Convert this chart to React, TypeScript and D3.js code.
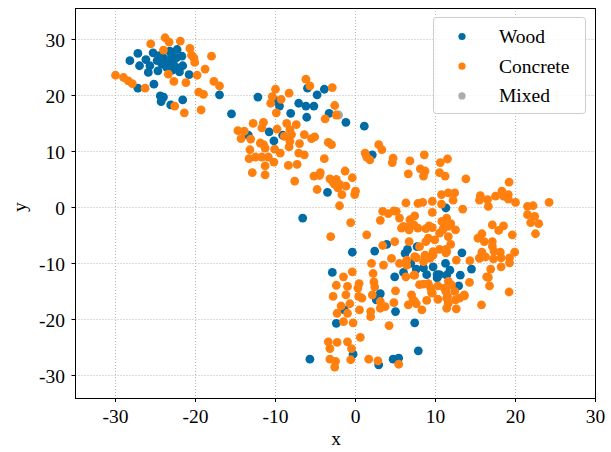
import React from "react";
import * as d3 from "d3";

// t-SNE style embedding
const wood: [number, number][] = [
  [-27.2, 27.6], [-28.2, 26.3], [-26.2, 26.5], [-25.3, 27.7], [-27.0, 25.4], [-25.7, 25.4],
  [-24.8, 26.3], [-24.0, 26.8], [-23.0, 27.4], [-22.3, 28.3], [-22.4, 26.8], [-21.7, 27.1],
  [-23.3, 26.3], [-24.2, 25.7], [-23.6, 25.1], [-22.4, 25.1], [-21.6, 25.4], [-22.0, 24.3],
  [-24.7, 24.5], [-25.9, 24.2], [-20.8, 23.8], [-27.2, 21.4], [-25.2, 22.1], [-24.4, 20.0],
  [-24.0, 19.8], [-24.3, 19.0], [-23.1, 18.4], [-21.6, 19.3], [-17.0, 20.2], [-15.5, 16.8],
  [-23.8, 26.1], [-22.8, 26.0], [-24.5, 27.2], [-23.2, 28.0], [-22.9, 24.6],
  [-6.0, 21.4], [-3.9, 21.2], [-4.8, 20.2], [-12.2, 19.8], [-9.9, 19.1], [-9.5, 18.2],
  [-7.1, 18.7], [-6.2, 18.2], [-5.2, 18.2], [-8.1, 16.9], [-6.1, 16.2], [-3.3, 16.9],
  [-1.2, 15.3], [1.1, 14.6], [-13.4, 13.0], [-10.8, 13.6], [-10.2, 12.0], [-9.1, 13.0],
  [2.1, 9.5], [-3.5, 2.8], [-6.6, -1.8],
  [11.3, 0.0], [13.3, -8.0], [11.25, -9.9], [11.8, -11.1], [14.5, -10.9], [13.1, -12.0],
  [12.9, -13.9], [10.5, -11.9], [3.9, -6.5], [2.4, -7.7], [6.5, -7.4], [6.2, -8.1],
  [7.7, -6.9], [-0.4, -7.9], [6.9, -9.9], [7.6, -10.9], [8.5, -10.7], [8.9, -11.9],
  [9.7, -10.5], [10.2, -11.9], [10.2, -12.5], [11.4, -12.0], [-2.9, -11.5], [4.9, -12.3],
  [6.0, -11.5], [3.1, -15.3],
  [-1.4, -18.2], [3.0, -15.5], [2.6, -16.4], [5.0, -18.5], [-2.4, -20.6], [7.4, -20.5],
  [-0.3, -26.1], [-5.7, -27.0], [2.9, -28.0], [4.7, -27.0], [5.4, -26.8], [7.85, -25.5],
];

const concrete: [number, number][] = [
  [-25.6, 29.3], [-23.8, 30.4], [-23.3, 29.6], [-21.9, 29.8], [-24.0, 28.2], [-20.7, 28.5],
  [-20.5, 27.3], [-20.2, 26.8], [-20.1, 26.0], [-18.0, 27.1], [-18.8, 24.8], [-30.0, 23.7],
  [-29.0, 23.3], [-28.4, 22.7], [-27.9, 22.2], [-26.3, 21.4], [-23.4, 23.9], [-22.7, 22.6],
  [-21.2, 22.4], [-19.8, 23.7], [-17.7, 22.6], [-17.0, 21.8], [-19.6, 20.7], [-19.0, 20.3],
  [-22.6, 18.2], [-21.4, 17.0], [-19.3, 17.5],
  [-6.2, 23.0], [-5.7, 21.8], [-2.9, 21.5], [-10.0, 21.2], [-10.4, 19.9], [-10.6, 18.7],
  [-9.3, 19.4], [-8.3, 20.5], [-9.9, 17.0], [-2.6, 18.3], [-2.4, 16.6], [-3.8, 15.9],
  [-12.8, 15.1], [-11.5, 15.3], [-14.7, 13.8], [-13.9, 13.7], [-14.3, 12.4], [-13.1, 12.3],
  [-11.7, 14.3], [-8.6, 15.1], [-7.4, 14.9], [-8.2, 14.0], [-9.8, 14.1], [-8.9, 12.8],
  [-8.0, 13.1], [-8.2, 11.9], [-8.3, 10.9], [-7.0, 11.5], [-6.4, 13.1], [-5.5, 12.4],
  [-5.1, 12.7], [-3.4, 11.7], [-3.0, 11.3], [-11.9, 11.6], [-11.5, 11.3], [-11.3, 10.7],
  [-10.1, 10.5], [-13.2, 10.4], [-9.4, 9.8], [-7.1, 9.8], [-6.4, 9.5], [-13.3, 8.8],
  [-12.5, 9.1], [-11.7, 9.1], [-10.9, 9.1], [-10.2, 8.2], [-11.3, 7.5], [-8.4, 7.6],
  [-7.3, 7.8], [-12.9, 6.3], [-11.3, 5.9], [-3.9, 8.8], [-7.6, 4.8], [-5.2, 5.7],
  [-4.5, 5.8], [-3.2, 5.2], [-2.4, 5.1], [-1.3, 6.6], [-0.4, 5.4], [-2.6, 4.2],
  [-2.0, 4.2], [-1.2, 3.9], [-4.8, 3.3], [-1.7, 2.4], [0.0, 3.0], [1.2, 9.8],
  [1.8, 8.6], [1.4, 9.1], [2.9, 11.3], [-2.8, 4.6], [-2.2, 3.6], [-4.4, 6.3],
  [3.3, 10.4], [8.6, 9.5], [4.7, 8.9], [6.8, 8.4], [11.5, 8.75],
  [4.6, 8.1], [6.6, 6.1], [8.1, 7.0], [8.7, 6.6], [8.5, 5.7], [10.6, 8.1],
  [10.5, 6.3], [11.2, 5.7], [10.75, 2.4], [11.6, 2.7], [-2.0, 0.4], [-0.6, -2.6],
  [6.3, 0.9], [7.8, 0.8], [8.4, 1.0], [9.6, 1.2], [3.4, -0.6], [4.1, -1.0],
  [5.1, -0.6], [3.1, -2.2], [5.5, -1.8], [6.8, -2.1], [7.4, -1.4], [9.6, -0.8],
  [6.0, -3.3], [6.8, -3.2], [9.2, -3.2], [11.4, -1.8],
  [13.8, 5.2], [19.2, 4.6], [12.4, 2.7], [12.2, 1.4], [13.4, -0.2], [15.6, 2.2],
  [15.5, 1.4], [16.5, 1.5], [16.6, 0.3], [17.5, 2.1], [18.3, 3.0], [18.5, 2.1],
  [19.1, 2.4], [19.1, 1.6], [20.0, 1.0], [21.5, 0.3], [22.2, 0.4], [24.2, 1.0],
  [21.5, -1.2], [22.4, -1.5], [21.9, -2.6], [22.9, -2.8], [22.5, -4.6], [11.9, -2.8],
  [12.5, -3.9], [10.8, -2.4], [10.9, -3.9], [10.5, -4.5], [11.6, -5.1], [11.9, -6.5],
  [17.1, -3.0], [17.9, -4.0], [18.5, -3.2], [19.6, -4.8], [15.8, -4.6], [15.3, -5.4],
  [16.1, -6.0], [17.1, -6.0], [17.1, -6.8], [17.3, -7.7], [19.9, -7.9], [19.25, -8.9],
  [18.1, -7.9], [18.2, -8.9], [15.8, -7.9], [15.5, -8.9], [16.25, -8.75], [17.25, -9.1],
  [19.25, -9.8], [18.2, -10.5], [16.9, -10.9], [16.4, -12.3], [16.75, -13.9], [14.25, -13.3],
  [19.2, -15.0], [12.6, -9.3], [11.3, -7.4], [11.3, -8.0], [10.5, -7.4], [11.6, -13.1],
  [11.1, -14.3], [12.4, -14.9], [13.6, -15.7], [11.5, -15.8],
  [-0.1, 2.4], [-3.1, -5.1], [1.4, -4.8], [4.8, -0.5], [5.75, -3.6], [6.7, -3.9],
  [7.8, -3.6], [7.3, -3.0], [8.8, -3.7], [9.6, -3.5], [10.75, 0.7], [11.0, -3.6],
  [11.6, -3.3], [9.1, -5.4], [9.9, -5.7], [6.7, -6.0], [4.9, -6.0], [3.4, -6.7],
  [4.5, -9.0], [2.0, -9.9], [3.5, -10.2], [5.5, -9.9], [7.6, -8.9], [8.7, -8.4],
  [9.7, -7.8], [9.3, -9.0], [8.5, -9.6], [8.8, -6.0], [8.0, -6.9], [6.3, -12.3],
  [7.3, -12.0], [-1.5, -12.3], [-0.4, -11.4], [0.45, -13.5], [-2.4, -13.8], [2.2, -11.7],
  [2.3, -13.2], [2.4, -14.1], [8.0, -13.7], [9.1, -13.5], [10.3, -13.9],
  [-2.8, -15.8], [-1.0, -14.0], [-1.2, -15.5], [-0.7, -17.1], [-1.8, -17.5], [-1.0, -18.8],
  [-2.3, -18.8], [-1.5, -20.3], [-0.3, -20.5], [0.3, -14.3], [0.4, -15.8], [0.8, -16.1],
  [2.1, -15.5], [0.5, -18.2], [1.9, -18.5], [1.9, -19.4], [3.1, -16.7], [3.1, -17.9],
  [3.7, -17.6], [5.0, -14.8], [4.8, -16.9], [4.2, -21.0], [6.6, -17.3], [7.0, -15.5],
  [7.2, -16.4], [7.6, -17.1], [8.3, -18.2], [8.9, -16.5], [9.4, -14.3], [9.6, -15.2],
  [8.5, -13.6], [10.3, -16.3], [11.3, -14.9], [11.4, -17.9], [11.6, -17.0], [12.5, -16.4],
  [13.6, -15.5], [12.6, -18.0], [12.0, -13.75], [0.6, -23.1], [-3.4, -23.9], [-3.2, -25.1],
  [-2.3, -24.0], [-1.0, -23.9], [-0.5, -25.1], [-3.2, -27.0], [-2.5, -27.4], [-2.6, -28.4],
  [-0.6, -27.1], [1.65, -27.0], [2.8, -27.3], [5.4, -27.9],
  [6.4, -9.3], [7.4, -8.7], [8.7, -8.6], [9.7, -8.4], [11.4, -7.8], [11.3, -14.6],
  [11.4, -16.1], [13.0, -16.1], [9.5, -15.1], [7.4, -16.7], [6.4, -10.2], [7.4, -12.0],
  [15.75, -17.3], [16.6, -12.4], [14.3, -9.4], [15.5, -9.0],
];

const mixed: [number, number][] = [[-2.1, 16.6]];

const xTicks = [-30, -20, -10, 0, 10, 20, 30];
const yTicks = [-30, -20, -10, 0, 10, 20, 30];

const series = [
  { name: "Wood", color: "#006BA4", points: wood },
  { name: "Concrete", color: "#FF800E", points: concrete },
  { name: "Mixed", color: "#ABABAB", points: mixed },
];

const width = 611;
const height = 452;
const left = 75.5, right = 595.5, top = 8, bottom = 398;
const font = "'Liberation Serif', 'DejaVu Serif', serif";

export default function App() {
  const x = d3.scaleLinear().domain([-35, 30]).range([left, right]);
  const y = d3.scaleLinear().domain([-33.93, 35.71]).range([bottom, top]);
  const snap = (v: number) => Math.round(v - 0.5) + 0.5; // crisp 1px grid lines

  // draw grey first so it sits under the others
  const drawOrder = [series[2], series[0], series[1]];

  return (
    <svg width={width} height={height}
      style={{ position: "fixed", left: 0, top: 0, background: "#fff" }}
      fontFamily={font}>
      {/* grid */}
      <g stroke="#b8b8b8" strokeWidth={1} strokeDasharray="1,2">
        {xTicks.map(t => <line key={"gx" + t} x1={snap(x(t))} x2={snap(x(t))} y1={top} y2={bottom} />)}
        {yTicks.map(t => <line key={"gy" + t} x1={left} x2={right} y1={snap(y(t))} y2={snap(y(t))} />)}
      </g>

      {/* points */}
      {drawOrder.map(s => (
        <g key={s.name} fill={s.color}>
          {s.points.map((p, i) => <circle key={i} cx={x(p[0])} cy={y(p[1])} r={4.4} />)}
        </g>
      ))}

      {/* frame */}
      <rect x={left} y={top + 0.5} width={right - left} height={bottom - top}
        fill="none" stroke="#000" strokeWidth={1} />

      {/* x axis */}
      <g fontSize={19.5} fill="#000" textAnchor="middle">
        {xTicks.map(t => (
          <g key={"tx" + t}>
            <line x1={snap(x(t))} x2={snap(x(t))} y1={bottom} y2={bottom + 4} stroke="#000" />
            <text x={x(t)} y={423}>{t}</text>
          </g>
        ))}
      </g>
      {/* y axis */}
      <g fontSize={19.5} fill="#000" textAnchor="end">
        {yTicks.map(t => (
          <g key={"ty" + t}>
            <line x1={left - 4} x2={left} y1={snap(y(t))} y2={snap(y(t))} stroke="#000" />
            <text x={65} y={y(t)} dy="0.35em">{t}</text>
          </g>
        ))}
      </g>

      <text x={336} y={445} fontSize={19.5} textAnchor="middle">x</text>
      <text transform="translate(26,207) rotate(-90)" fontSize={19.5} textAnchor="middle">y</text>

      {/* legend */}
      <rect x={433.5} y={17.5} width={152} height={96} rx={3}
        fill="#fff" fillOpacity={0.8} stroke="#cccccc" />
      {series.map((s, i) => (
        <g key={"lg" + s.name}>
          <circle cx={462} cy={36.5 + i * 29.7} r={3.6} fill={s.color} />
          <text x={499} y={36.5 + i * 29.7} dy="0.33em" fontSize={19.5}>{s.name}</text>
        </g>
      ))}
    </svg>
  );
}
